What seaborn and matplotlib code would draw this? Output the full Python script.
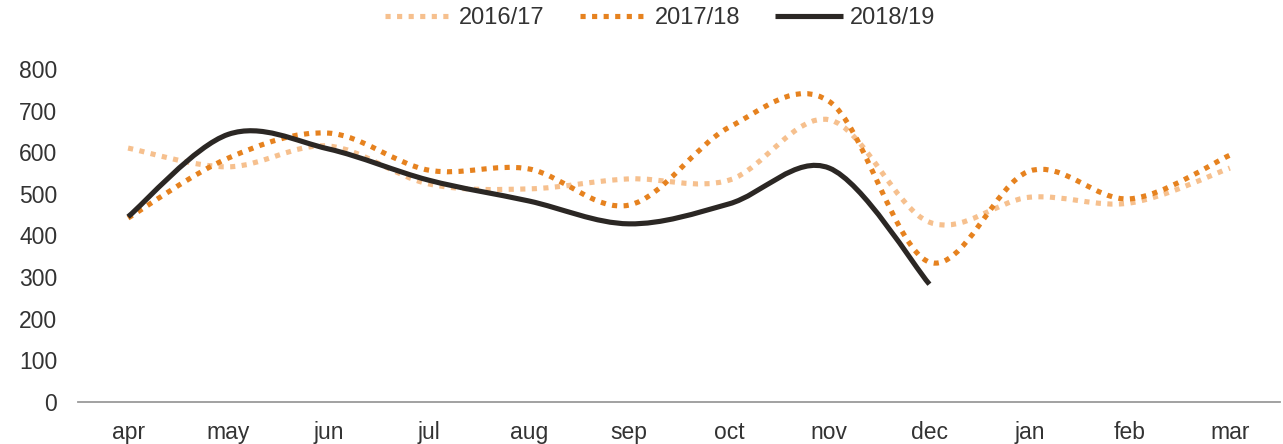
import numpy as np
import pandas as pd
import seaborn as sns
import matplotlib.pyplot as plt
from matplotlib.path import Path
from matplotlib.patches import PathPatch
from matplotlib.lines import Line2D

# データ
months = ["apr", "may", "jun", "jul", "aug", "sep", "oct", "nov", "dec", "jan", "feb", "mar"]
s2016 = [610, 565, 615, 524, 512, 536, 533, 678, 432, 492, 478, 562]
s2017 = [442, 586, 646, 557, 560, 473, 660, 722, 336, 555, 488, 593]
s2018 = [445, 643, 608, 533, 483, 428, 476, 562, 283, np.nan, np.nan, np.nan]
seasons = ["2016/17", "2017/18", "2018/19"]

df = pd.DataFrame({"month": months, "2016/17": s2016, "2017/18": s2017, "2018/19": s2018})

sns.set_theme(style="white")
plt.rcParams["font.family"] = ["Liberation Sans", "DejaVu Sans"]

colors = {"2016/17": "#f6c08e", "2017/18": "#e6821f", "2018/19": "#2b2724"}
styles = {"2016/17": (0, (1, 1.25)), "2017/18": (0, (1, 1.25)), "2018/19": "-"}


def smooth_path(xs, ys):
    # Excel 風の平滑線 (Catmull-Rom -> Bezier)
    pts = np.column_stack([xs, ys])
    n = len(pts)
    verts = [pts[0]]
    codes = [Path.MOVETO]
    for i in range(n - 1):
        p0 = pts[max(i - 1, 0)]
        p1 = pts[i]
        p2 = pts[i + 1]
        p3 = pts[min(i + 2, n - 1)]
        verts += [p1 + (p2 - p0) / 6, p2 - (p3 - p1) / 6, p2]
        codes += [Path.CURVE4] * 3
    return Path(verts, codes)


fig = plt.figure(figsize=(12.83, 4.44), dpi=100)
ax = fig.add_axes([78 / 1283, 1 - 402 / 444, (1280 - 78) / 1283, (402 - 69) / 444])

x = np.arange(len(months))
handles = []
for s in seasons:
    y = df[s].to_numpy(dtype=float)
    ok = ~np.isnan(y)
    patch = PathPatch(smooth_path(x[ok], y[ok]), fill=False, edgecolor=colors[s],
                      linewidth=3.7, linestyle=styles[s], capstyle="butt")
    ax.add_patch(patch)
    handles.append(Line2D([], [], color=colors[s], linewidth=3.7, linestyle=styles[s],
                          solid_capstyle="butt", dash_capstyle="butt"))

ax.set_xlim(-0.5, 11.5)
ax.set_ylim(0, 800)
ax.set_xticks(x)
ax.set_xticklabels(months)
ax.set_yticks(range(0, 801, 100))
ax.tick_params(axis="both", length=0, labelsize=16.5, colors="#333333")
ax.tick_params(axis="y", pad=15)
ax.tick_params(axis="x", pad=14)
ax.set_xlabel("")
ax.set_ylabel("")

sns.despine(ax=ax, left=True)
ax.spines["bottom"].set_color("#9a9a9a")
ax.spines["bottom"].set_linewidth(1.3)

fig.legend(handles, seasons, loc="center", bbox_to_anchor=(660 / 1283, 1 - 18 / 444),
           ncol=3, frameon=False, fontsize=17, handlelength=2.85, handletextpad=0.3,
           columnspacing=1.5, labelcolor="#333333", borderpad=0)

fig.savefig("out.png", dpi=100)
